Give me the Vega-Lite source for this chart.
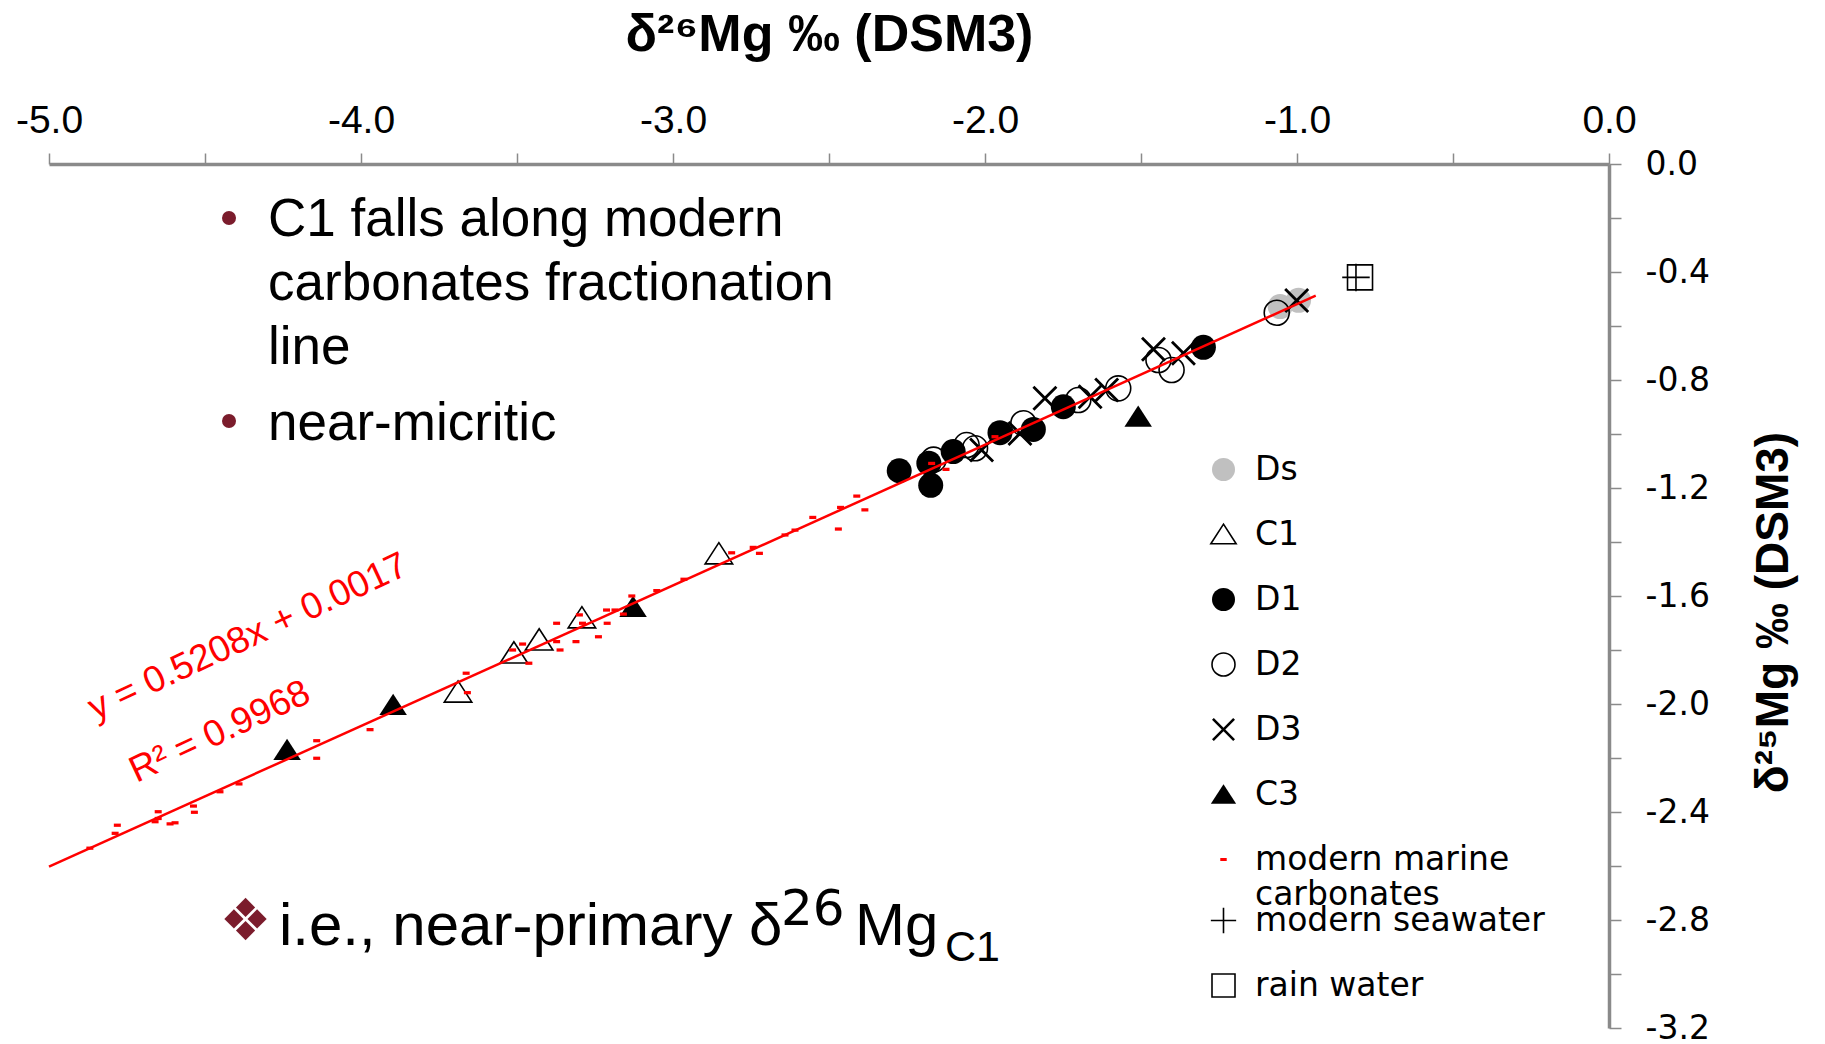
{
  "$schema": "https://vega.github.io/schema/vega-lite/v6.json",
  "width": 1560,
  "height": 864,
  "autosize": {"type": "none"},
  "padding": {"left": 49, "top": 164, "right": 216, "bottom": 16},
  "background": "white",
  "config": {
    "view": {"stroke": null},
    "font": "Liberation Sans, Arial, DejaVu Sans, sans-serif"
  },
  "datasets": {
    "samples": [
      {"series": "Ds", "x": -1.054, "y": -0.528},
      {"series": "Ds", "x": -0.995, "y": -0.505},
      {"series": "C1", "x": -3.689, "y": -1.956},
      {"series": "C1", "x": -3.51, "y": -1.811},
      {"series": "C1", "x": -3.429, "y": -1.763},
      {"series": "C1", "x": -3.292, "y": -1.681},
      {"series": "C1", "x": -2.853, "y": -1.444},
      {"series": "D1", "x": -2.275, "y": -1.136},
      {"series": "D1", "x": -2.174, "y": -1.19},
      {"series": "D1", "x": -2.18, "y": -1.108},
      {"series": "D1", "x": -2.102, "y": -1.065},
      {"series": "D1", "x": -1.952, "y": -0.995},
      {"series": "D1", "x": -1.845, "y": -0.983},
      {"series": "D1", "x": -1.749, "y": -0.899},
      {"series": "D1", "x": -1.3, "y": -0.679},
      {"series": "D2", "x": -2.165, "y": -1.095},
      {"series": "D2", "x": -2.059, "y": -1.041},
      {"series": "D2", "x": -2.032, "y": -1.053},
      {"series": "D2", "x": -1.877, "y": -0.96},
      {"series": "D2", "x": -1.701, "y": -0.874},
      {"series": "D2", "x": -1.573, "y": -0.831},
      {"series": "D2", "x": -1.444, "y": -0.726},
      {"series": "D2", "x": -1.402, "y": -0.763},
      {"series": "D2", "x": -1.065, "y": -0.551},
      {"series": "D3", "x": -2.011, "y": -1.059},
      {"series": "D3", "x": -1.888, "y": -0.998},
      {"series": "D3", "x": -1.808, "y": -0.868},
      {"series": "D3", "x": -1.663, "y": -0.862},
      {"series": "D3", "x": -1.61, "y": -0.837},
      {"series": "D3", "x": -1.46, "y": -0.686},
      {"series": "D3", "x": -1.364, "y": -0.701},
      {"series": "D3", "x": -1.001, "y": -0.506},
      {"series": "C3", "x": -4.237, "y": -2.17},
      {"series": "C3", "x": -3.897, "y": -2.004},
      {"series": "C3", "x": -3.128, "y": -1.641},
      {"series": "C3", "x": -1.509, "y": -0.936},
      {"series": "modern marine carbonates", "x": -4.869, "y": -2.534},
      {"series": "modern marine carbonates", "x": -4.788, "y": -2.479},
      {"series": "modern marine carbonates", "x": -4.781, "y": -2.449},
      {"series": "modern marine carbonates", "x": -4.66, "y": -2.436},
      {"series": "modern marine carbonates", "x": -4.65, "y": -2.424},
      {"series": "modern marine carbonates", "x": -4.65, "y": -2.399},
      {"series": "modern marine carbonates", "x": -4.612, "y": -2.444},
      {"series": "modern marine carbonates", "x": -4.596, "y": -2.44},
      {"series": "modern marine carbonates", "x": -4.537, "y": -2.378},
      {"series": "modern marine carbonates", "x": -4.534, "y": -2.401},
      {"series": "modern marine carbonates", "x": -4.452, "y": -2.325},
      {"series": "modern marine carbonates", "x": -4.391, "y": -2.296},
      {"series": "modern marine carbonates", "x": -4.142, "y": -2.136},
      {"series": "modern marine carbonates", "x": -4.142, "y": -2.201},
      {"series": "modern marine carbonates", "x": -3.971, "y": -2.095},
      {"series": "modern marine carbonates", "x": -3.663, "y": -1.886},
      {"series": "modern marine carbonates", "x": -3.659, "y": -1.958},
      {"series": "modern marine carbonates", "x": -3.514, "y": -1.8},
      {"series": "modern marine carbonates", "x": -3.482, "y": -1.778},
      {"series": "modern marine carbonates", "x": -3.462, "y": -1.849},
      {"series": "modern marine carbonates", "x": -3.373, "y": -1.701},
      {"series": "modern marine carbonates", "x": -3.373, "y": -1.769},
      {"series": "modern marine carbonates", "x": -3.362, "y": -1.8},
      {"series": "modern marine carbonates", "x": -3.311, "y": -1.769},
      {"series": "modern marine carbonates", "x": -3.3, "y": -1.67},
      {"series": "modern marine carbonates", "x": -3.29, "y": -1.701},
      {"series": "modern marine carbonates", "x": -3.239, "y": -1.751},
      {"series": "modern marine carbonates", "x": -3.213, "y": -1.652},
      {"series": "modern marine carbonates", "x": -3.211, "y": -1.701},
      {"series": "modern marine carbonates", "x": -3.186, "y": -1.652},
      {"series": "modern marine carbonates", "x": -3.159, "y": -1.667},
      {"series": "modern marine carbonates", "x": -3.132, "y": -1.6},
      {"series": "modern marine carbonates", "x": -3.052, "y": -1.58},
      {"series": "modern marine carbonates", "x": -2.965, "y": -1.538},
      {"series": "modern marine carbonates", "x": -2.812, "y": -1.44},
      {"series": "modern marine carbonates", "x": -2.743, "y": -1.42},
      {"series": "modern marine carbonates", "x": -2.723, "y": -1.442},
      {"series": "modern marine carbonates", "x": -2.641, "y": -1.374},
      {"series": "modern marine carbonates", "x": -2.609, "y": -1.356},
      {"series": "modern marine carbonates", "x": -2.552, "y": -1.309},
      {"series": "modern marine carbonates", "x": -2.47, "y": -1.352},
      {"series": "modern marine carbonates", "x": -2.463, "y": -1.272},
      {"series": "modern marine carbonates", "x": -2.411, "y": -1.23},
      {"series": "modern marine carbonates", "x": -2.385, "y": -1.281},
      {"series": "modern marine carbonates", "x": -2.171, "y": -1.109},
      {"series": "modern marine carbonates", "x": -2.125, "y": -1.131},
      {"series": "modern marine carbonates", "x": -1.968, "y": -1.01}
    ],
    "waters": [
      {"water": "modern seawater", "x": -0.811, "y": -0.42},
      {"water": "rain water", "x": -0.798, "y": -0.42}
    ],
    "fit": [
      {"x": -5.0, "y": -2.6023},
      {"x": -0.94, "y": -0.4879}
    ]
  },
  "resolve": {
    "scale": {"shape": "independent", "fill": "independent", "stroke": "independent"},
    "legend": {"shape": "independent", "fill": "independent", "stroke": "independent"}
  },
  "layer": [
    {
      "data": {"name": "samples"},
      "mark": {"type": "point", "filled": true, "size": 625, "opacity": 1, "strokeWidth": 1.6},
      "encoding": {
        "x": {
          "field": "x",
          "type": "quantitative",
          "scale": {"domain": [-5, 0], "nice": false, "zero": false},
          "axis": {
            "orient": "top",
            "title": "δ²⁶Mg ‰ (DSM3)",
            "titleFont": "Liberation Sans, DejaVu Sans",
            "titleFontSize": 52,
            "titleFontWeight": "bold",
            "titleColor": "black",
            "titlePadding": 40,
            "values": [-5, -4.5, -4, -3.5, -3, -2.5, -2, -1.5, -1, -0.5, 0],
            "labelExpr": "datum.value % 1 == 0 ? replace(format(datum.value, '.1f'), '\u2212', '-') : ''",
            "labelFont": "Liberation Sans",
            "labelFontSize": 39,
            "labelColor": "black",
            "labelPadding": 13,
            "labelFlush": false,
            "labelOverlap": false,
            "labelBound": false,
            "tickSize": 11,
            "tickWidth": 1.5,
            "tickColor": "#8a8a8a",
            "domainColor": "#8a8a8a",
            "domainWidth": 3.5,
            "grid": false
          }
        },
        "y": {
          "field": "y",
          "type": "quantitative",
          "scale": {"domain": [-3.2, 0], "nice": false, "zero": false},
          "axis": {
            "orient": "right",
            "title": "δ²⁵Mg ‰ (DSM3)",
            "titleFont": "Liberation Sans, DejaVu Sans",
            "titleFontSize": 46,
            "titleFontWeight": "bold",
            "titleColor": "black",
            "titleAngle": 270,
            "titlePadding": 88,
            "titleY": 448,
            "values": [0, -0.2, -0.4, -0.6, -0.8, -1, -1.2, -1.4, -1.6, -1.8, -2, -2.2, -2.4, -2.6, -2.8, -3, -3.2],
            "labelExpr": "round(datum.value * 10) % 4 == 0 ? replace(format(datum.value, '.1f'), '\u2212', '-') : ''",
            "labelFont": "DejaVu Sans",
            "labelFontSize": 33,
            "labelColor": "black",
            "labelAlign": "left",
            "labelPadding": 24,
            "labelFlush": false,
            "labelOverlap": false,
            "labelBound": false,
            "tickSize": 12,
            "tickWidth": 1.5,
            "tickColor": "#8a8a8a",
            "domainColor": "#8a8a8a",
            "domainWidth": 3.5,
            "grid": false
          }
        },
        "shape": {
          "field": "series",
          "type": "nominal",
          "scale": {
            "domain": ["Ds", "C1", "D1", "D2", "D3", "C3", "modern marine carbonates"],
            "range": [
              "circle",
              "M0,-0.9L1.1,0.8L-1.1,0.8Z",
              "circle",
              "circle",
              "M-1,-0.84L-0.84,-1L0,-0.16L0.84,-1L1,-0.84L0.16,0L1,0.84L0.84,1L0,0.16L-0.84,1L-1,0.84L-0.16,0Z",
              "M0,-0.9L1.1,0.8L-1.1,0.8Z",
              "M-0.28,-0.13L0.28,-0.13L0.28,0.13L-0.28,0.13Z"
            ]
          },
          "legend": {
            "orient": "none",
            "legendX": 1158,
            "legendY": 289,
            "title": null,
            "padding": 0,
            "labelFont": "DejaVu Sans",
            "labelFontSize": 33,
            "labelColor": "black",
            "labelLimit": 400,
            "labelOffset": 15,
            "symbolSize": 529,
            "symbolStrokeWidth": 1.6,
            "symbolOpacity": 1,
            "rowPadding": 31,
            "labelExpr": "datum.label == 'modern marine carbonates' ? ['modern marine', 'carbonates'] : datum.label"
          }
        },
        "fill": {
          "field": "series",
          "type": "nominal",
          "scale": {
            "domain": ["Ds", "C1", "D1", "D2", "D3", "C3", "modern marine carbonates"],
            "range": ["#c0c0c0", "transparent", "black", "transparent", "black", "black", "#ff0000"]
          }
        },
        "stroke": {
          "field": "series",
          "type": "nominal",
          "scale": {
            "domain": ["Ds", "C1", "D1", "D2", "D3", "C3", "modern marine carbonates"],
            "range": ["transparent", "black", "transparent", "black", "transparent", "transparent", "transparent"]
          }
        }
      }
    },
    {
      "data": {"name": "waters"},
      "mark": {"type": "point", "filled": true, "size": 625, "opacity": 1, "strokeWidth": 1.6},
      "encoding": {
        "x": {"field": "x", "type": "quantitative"},
        "y": {"field": "y", "type": "quantitative"},
        "shape": {
          "field": "water",
          "type": "nominal",
          "scale": {
            "domain": ["modern seawater", "rain water"],
            "range": ["M-1.1,0L1.1,0M0,-1.1L0,1.1", "M-1,-1L1,-1L1,1L-1,1Z"]
          },
          "legend": {
            "orient": "none",
            "legendX": 1158,
            "legendY": 740,
            "title": null,
            "padding": 0,
            "labelFont": "DejaVu Sans",
            "labelFontSize": 33,
            "labelColor": "black",
            "labelLimit": 400,
            "labelOffset": 15,
            "symbolSize": 529,
            "symbolStrokeWidth": 1.6,
            "symbolOpacity": 1,
            "rowPadding": 31
          }
        },
        "fill": {
          "field": "water",
          "type": "nominal",
          "scale": {"domain": ["modern seawater", "rain water"], "range": ["transparent", "transparent"]}
        },
        "stroke": {
          "field": "water",
          "type": "nominal",
          "scale": {"domain": ["modern seawater", "rain water"], "range": ["black", "black"]}
        }
      }
    },
    {
      "data": {"name": "fit"},
      "mark": {"type": "line", "color": "#ff0000", "strokeWidth": 2.5},
      "encoding": {
        "x": {"field": "x", "type": "quantitative"},
        "y": {"field": "y", "type": "quantitative"}
      }
    },
    {
      "data": {"values": [{}]},
      "mark": {"type": "text", "text": "y = 0.5208x + 0.0017", "angle": 335, "fontSize": 37, "font": "Liberation Sans", "color": "#ff0000", "align": "center", "baseline": "middle"},
      "encoding": {"x": {"datum": -4.362}, "y": {"datum": -1.752}}
    },
    {
      "data": {"values": [{}]},
      "mark": {"type": "text", "text": "R² = 0.9968", "angle": 335, "fontSize": 37, "font": "Liberation Sans", "color": "#ff0000", "align": "center", "baseline": "middle"},
      "encoding": {"x": {"datum": -4.452}, "y": {"datum": -2.104}}
    },
    {
      "data": {"values": [{}]},
      "mark": {"type": "point", "shape": "circle", "filled": true, "size": 196, "opacity": 1, "color": "#7b1c2c"},
      "encoding": {"x": {"datum": -4.423}, "y": {"datum": -0.2}}
    },
    {
      "data": {"values": [{}]},
      "mark": {"type": "point", "shape": "circle", "filled": true, "size": 196, "opacity": 1, "color": "#7b1c2c"},
      "encoding": {"x": {"datum": -4.423}, "y": {"datum": -0.952}}
    },
    {
      "data": {"values": [{}]},
      "mark": {"type": "text", "text": ["C1 falls along modern", "carbonates fractionation", "line"], "lineHeight": 64, "fontSize": 53, "font": "Liberation Sans", "color": "black", "align": "left", "baseline": "alphabetic"},
      "encoding": {"x": {"datum": -4.298}, "y": {"datum": -0.2667}}
    },
    {
      "data": {"values": [{}]},
      "mark": {"type": "text", "text": "near-micritic", "fontSize": 53, "font": "Liberation Sans", "color": "black", "align": "left", "baseline": "alphabetic"},
      "encoding": {"x": {"datum": -4.298}, "y": {"datum": -1.022}}
    },
    {
      "data": {"values": [{}]},
      "mark": {"type": "text", "text": "❖", "fontSize": 58, "font": "DejaVu Sans", "color": "#7b1c2c", "align": "center", "baseline": "middle"},
      "encoding": {"x": {"datum": -4.37}, "y": {"datum": -2.811}}
    },
    {
      "data": {"values": [{}]},
      "mark": {"type": "text", "text": "i.e., near-primary δ", "fontSize": 60, "font": "Liberation Sans", "color": "black", "align": "left", "baseline": "alphabetic"},
      "encoding": {"x": {"datum": -4.263}, "y": {"datum": -2.8926}}
    },
    {
      "data": {"values": [{}]},
      "mark": {"type": "text", "text": "26", "fontSize": 50, "font": "DejaVu Sans", "color": "black", "align": "left", "baseline": "alphabetic"},
      "encoding": {"x": {"datum": -2.654}, "y": {"datum": -2.8185}}
    },
    {
      "data": {"values": [{}]},
      "mark": {"type": "text", "text": "Mg", "fontSize": 60, "font": "Liberation Sans", "color": "black", "align": "left", "baseline": "alphabetic"},
      "encoding": {"x": {"datum": -2.417}, "y": {"datum": -2.8926}}
    },
    {
      "data": {"values": [{}]},
      "mark": {"type": "text", "text": "C1", "fontSize": 43, "font": "Liberation Sans", "color": "black", "align": "left", "baseline": "alphabetic"},
      "encoding": {"x": {"datum": -2.128}, "y": {"datum": -2.952}}
    }
  ]
}
